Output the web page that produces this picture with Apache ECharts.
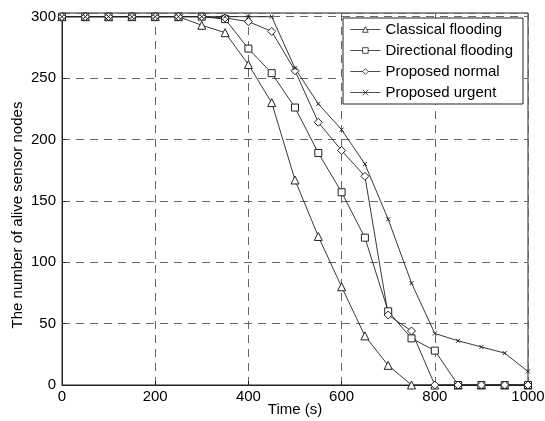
<!DOCTYPE html>
<html>
<head>
<meta charset="utf-8">
<script src="https://cdn.jsdelivr.net/npm/echarts@6/dist/echarts.min.js"></script>
<style>
  html, body { margin: 0; padding: 0; background: #fff; }
  #main { width: 545px; height: 421px; }
</style>
</head>
<body>
<div id="main"></div>
<script>
// time steps (s)
const times = [0, 50, 100, 150, 200, 250, 300, 350, 400, 450, 500, 550, 600, 650, 700, 750, 800, 850, 900, 950, 1000]
// alive nodes for each scheme
const classical = [300, 300, 300, 300, 300, 300, 293, 287, 261, 230, 167, 121, 80, 40, 16, 0, 0, 0, 0, 0, 0]
const directional = [300, 300, 300, 300, 300, 300, 300, 298, 274, 254, 226, 189, 157, 120, 60, 38, 28, 0, 0, 0, 0]
const normal = [300, 300, 300, 300, 300, 300, 300, 299, 296, 288, 256, 214, 191, 170, 57, 44, 0, 0, 0, 0, 0]
const urgent = [300, 300, 300, 300, 300, 300, 300, 300, 300, 300, 258, 229, 208, 180, 135, 83, 42, 36, 31, 26, 11]
const names = ['Classical flooding', 'Directional flooding', 'Proposed normal', 'Proposed urgent']

const font = 'Liberation Sans, Arial, sans-serif'
const ink = '#222'

const chart = echarts.init(document.getElementById('main'))

// make one line series with open markers
function makeSeries (name, values, symbol, size) {
  return {
    name: name,
    type: 'line',
    data: times.map((t, i) => [t, values[i]]),
    symbol: symbol,
    symbolSize: size,
    showAllSymbol: true,
    animation: false,
    lineStyle: { color: ink, width: 0.9 },
    itemStyle: { color: '#fff', borderColor: ink, borderWidth: 1 }
  }
}

const gridDash = { color: '#666', width: 1, type: [8, 6] }

const option = {
  backgroundColor: '#fff',
  grid: {
    left: 62, right: 17, top: 13, bottom: 36,
    outerBoundsMode: 'none',
    containLabel: false,
    show: true, borderColor: ink, borderWidth: 1
  },
  xAxis: {
    type: 'value',
    min: 0, max: 1000, interval: 200,
    name: 'Time (s)',
    nameLocation: 'middle',
    nameGap: 17,
    nameMoveOverlap: false,
    nameTextStyle: { color: '#000', fontSize: 15, fontFamily: font },
    axisLine: { show: true, lineStyle: { color: ink } },
    axisTick: { show: true, inside: true, length: 4, lineStyle: { color: ink } },
    axisLabel: { color: '#000', fontSize: 15, fontFamily: font, margin: 4, formatter: (v) => String(v) },
    splitLine: { show: true, lineStyle: gridDash }
  },
  yAxis: {
    type: 'value',
    min: 0, max: 303, interval: 50,
    name: 'The number of alive sensor nodes',
    nameLocation: 'middle',
    nameGap: 37,
    nameMoveOverlap: false,
    nameTextStyle: { color: '#000', fontSize: 15, fontFamily: font, padding: [0, 32, 0, 0] },
    axisLine: { show: true, lineStyle: { color: ink } },
    axisTick: { show: true, inside: true, length: 4, lineStyle: { color: ink } },
    axisLabel: { color: '#000', fontSize: 15, fontFamily: font, margin: 6, showMaxLabel: false },
    splitLine: { show: true, lineStyle: gridDash }
  },
  legend: {
    data: names,
    orient: 'vertical',
    left: 343,
    top: 18,
    itemWidth: 30,
    itemHeight: 7,
    itemGap: 6,
    padding: [4, 10, 4, 7],
    backgroundColor: '#fff',
    borderColor: ink,
    borderWidth: 1,
    itemStyle: { color: '#fff', borderColor: ink, borderWidth: 0.8 },
    lineStyle: { color: ink, width: 0.8 },
    textStyle: { color: '#000', fontSize: 15, fontFamily: font }
  },
  series: [
    makeSeries(names[0], classical, 'triangle', 8),
    makeSeries(names[1], directional, 'rect', 7),
    makeSeries(names[2], normal, 'diamond', 8),
    makeSeries(names[3], urgent, 'path://M0,0L10,10M10,0L0,10', 4)
  ]
}
chart.setOption(option)
</script>
</body>
</html>
